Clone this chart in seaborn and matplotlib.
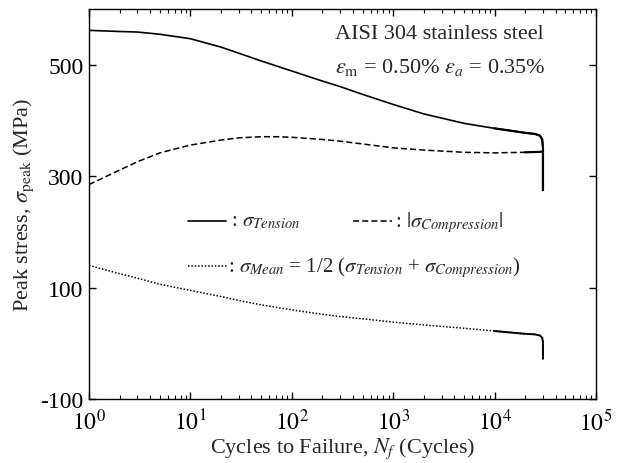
import numpy as np
import pandas as pd
import matplotlib
matplotlib.use("Agg")
import matplotlib.pyplot as plt
import matplotlib.ticker as mticker
import seaborn as sns

# Peak stress history of AISI 304 under mean strain 0.50 %, amplitude 0.35 %
cycles_tension = [1, 2, 3, 5, 10, 20, 30, 50, 100, 200, 300, 500, 1000, 2000,
                  5000, 10000, 20000, 25000, 28000, 29500, 30000, 30000]
tension = [562, 560, 559, 555, 547, 532, 521, 507, 489, 471, 461, 447, 429, 412,
           395, 386, 378, 376, 373, 366, 350, 275]

cycles_compression = [1, 2, 3, 5, 10, 20, 30, 50, 70, 100, 200, 300, 500, 1000,
                      2000, 5000, 10000, 20000, 30000]
compression = [285, 311, 326, 342, 356, 365, 369, 371, 371, 370, 366, 363, 358,
               351, 347, 343, 342, 343, 344]

cycles_mean = [1, 2, 3, 5, 10, 20, 30, 50, 100, 200, 300, 500, 1000, 2000, 5000,
               10000, 20000, 25000, 28000, 29500, 30000, 30000]
mean = [140, 125, 117, 106, 95, 84, 77, 69, 60, 52, 48, 44, 38, 33, 27, 22, 17,
        16, 14, 10, 2, -28]

y_ticks = [-100, 100, 300, 500]
y_tick_labels = ["-100", "100", "300", "500"]
x_ticks = [1, 10, 100, 1000, 10000, 100000]
x_tick_labels = [r"$10^0$", r"$10^1$", r"$10^2$", r"$10^3$", r"$10^4$", r"$10^5$"]

sns.set_theme(style="ticks")
plt.rcParams.update({
    "font.family": ["Liberation Serif", "DejaVu Serif"],
    "mathtext.fontset": "stix",
    "axes.linewidth": 1.0,
    "xtick.direction": "in",
    "ytick.direction": "in",
    "xtick.top": True,
    "ytick.right": True,
    "xtick.major.size": 5,
    "ytick.major.size": 5,
    "xtick.minor.size": 3,
    "xtick.major.width": 1.0,
    "ytick.major.width": 1.0,
    "xtick.minor.width": 0.8,
    "xtick.color": "black",
    "ytick.color": "black",
    "axes.edgecolor": "black",
})

fig = plt.figure(figsize=(6.21, 4.64), dpi=100)
ax = fig.add_axes([0.1433, 0.138, 0.8164, 0.840])

df_t = pd.DataFrame({"N": cycles_tension, "s": tension})
df_c = pd.DataFrame({"N": cycles_compression, "s": compression})
df_m = pd.DataFrame({"N": cycles_mean, "s": mean})

dash = (0, (4, 2))
dot = (0, (1, 1.2))

sns.lineplot(data=df_t, x="N", y="s", ax=ax, color="black", lw=1.2,
             sort=False, estimator=None)
sns.lineplot(data=df_c, x="N", y="s", ax=ax, color="black", lw=1.1,
             sort=False, estimator=None, linestyle=dash)
sns.lineplot(data=df_m, x="N", y="s", ax=ax, color="black", lw=1.1,
             sort=False, estimator=None, linestyle=dot)

# Scatter in the late-life data makes each trace look heavier and solid
sns.lineplot(data=df_t[df_t["N"] >= 10000], x="N", y="s", ax=ax, color="black",
             lw=1.6, sort=False, estimator=None)
sns.lineplot(data=df_c[df_c["N"] >= 20000], x="N", y="s", ax=ax, color="black",
             lw=1.6, sort=False, estimator=None)
sns.lineplot(data=df_m[df_m["N"] >= 10000], x="N", y="s", ax=ax, color="black",
             lw=1.4, sort=False, estimator=None)

ax.set_xscale("log")
ax.set_xlim(1, 1e5)
ax.set_ylim(-100, 600)
ax.set_xticks(x_ticks)
ax.set_xticklabels(x_tick_labels)
ax.xaxis.set_minor_locator(mticker.LogLocator(base=10, subs=np.arange(2, 10)))
ax.xaxis.set_minor_formatter(mticker.NullFormatter())
ax.set_yticks(y_ticks)
ax.set_yticklabels(y_tick_labels)
ax.tick_params(axis="y", which="major", labelsize=17, pad=4)
ax.tick_params(axis="x", which="major", labelsize=17, pad=7)

ax.set_xlabel(r"Cycles to Failure, $N_f$ (Cycles)", fontsize=16, labelpad=1)
ax.set_ylabel(r"Peak stress, $\sigma_{\rm peak}$ (MPa)", fontsize=16, labelpad=3)

# Material and loading condition
ax.text(0.485, 0.937, "AISI 304 stainless steel", transform=ax.transAxes,
        ha="left", va="center", fontsize=16)
ax.text(0.485, 0.852, r"$\varepsilon_{\rm m}$ = 0.50% $\varepsilon_a$ = 0.35%",
        transform=ax.transAxes, ha="left", va="center", fontsize=16)

# Hand-placed key
ax.plot([0.1945, 0.270], [0.456, 0.456], transform=ax.transAxes,
        color="black", lw=1.2)
ax.text(0.280, 0.456, r": $\sigma_{Tension}$", transform=ax.transAxes,
        ha="left", va="center", fontsize=15)
ax.plot([0.520, 0.598], [0.456, 0.456], transform=ax.transAxes,
        color="black", lw=1.1, linestyle=dash)
ax.text(0.604, 0.456, r": $|\sigma_{Compression}|$", transform=ax.transAxes,
        ha="left", va="center", fontsize=15)
ax.plot([0.1945, 0.272], [0.341, 0.341], transform=ax.transAxes,
        color="black", lw=1.1, linestyle=dot)
ax.text(0.274, 0.341,
        r": $\sigma_{Mean}$ = 1/2 ($\sigma_{Tension}$ + $\sigma_{Compression}$)",
        transform=ax.transAxes, ha="left", va="center", fontsize=15)

fig.savefig("out.png", dpi=100)
